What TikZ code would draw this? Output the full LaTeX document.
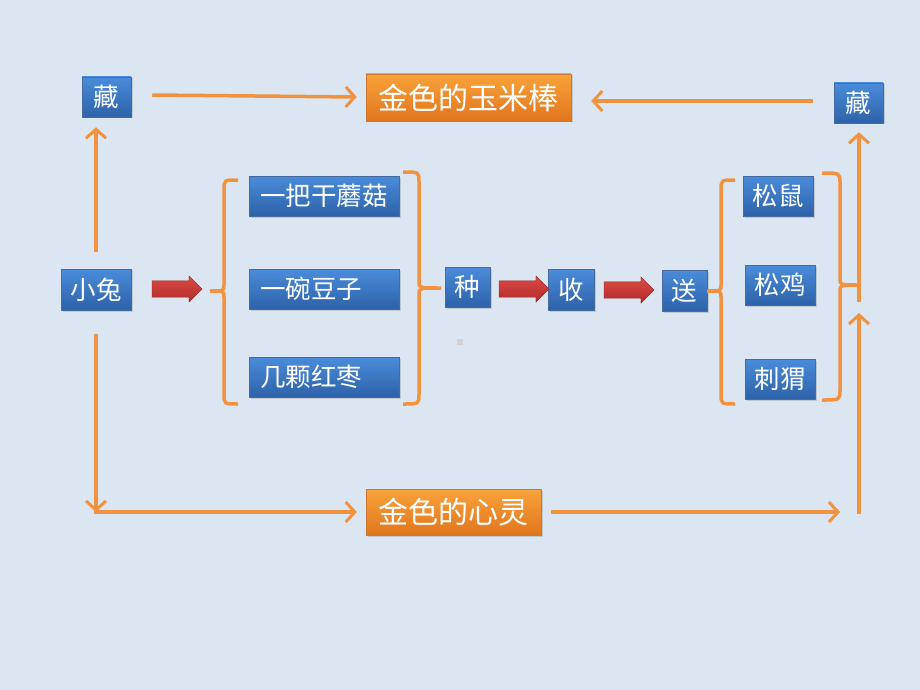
\documentclass[tikz,border=0pt]{standalone}
\usepackage{fontspec}
\newfontfamily\cjk{Noto Sans CJK SC}
\usetikzlibrary{arrows.meta,shadows,shapes.arrows}
\definecolor{bg}{HTML}{DCE6F2}
\definecolor{btop}{HTML}{4A8CDB}
\definecolor{bbot}{HTML}{2D62A8}
\definecolor{otop}{HTML}{F9A23A}
\definecolor{obot}{HTML}{E0761E}
\definecolor{oline}{HTML}{F0923E}
\definecolor{rtop}{HTML}{DC4B45}
\definecolor{rbot}{HTML}{B02A2A}
\tikzset{
  bluebox/.style={draw=bbot!70!gray, line width=0.5pt, top color=btop, bottom color=bbot, text=white, inner sep=0pt,
    font=\cjk\fontsize{25.5}{28}\selectfont, drop shadow={shadow xshift=1.5pt, shadow yshift=-1.5pt, opacity=0.3}},
  orangebox/.style={draw=obot!80!gray, line width=0.5pt, top color=otop, bottom color=obot, text=white, inner sep=0pt,
    font=\cjk\fontsize{30}{33}\selectfont, drop shadow={shadow xshift=1.5pt, shadow yshift=-1.5pt, opacity=0.3}},
  oarrow/.style={draw=oline, line width=3.5pt, -{Straight Barb[length=9pt,width=20pt,line width=3pt]}},
  obrace/.style={draw=oline, line width=3.5pt},
  redarrow/.style={single arrow, single arrow head extend=5pt, inner xsep=0pt, inner ysep=8pt, minimum height=50pt,
    top color=rtop, bottom color=rbot, draw=rbot!80!black, line width=0.3pt}
}
\begin{document}
\begin{tikzpicture}[x=1pt,y=-1pt]
\fill[bg] (0,0) rectangle (920,690);
\useasboundingbox (0,0) rectangle (920,690);
% boxes
\node[bluebox, minimum width=49, minimum height=40] (zangL) at (106.5,97) {藏};
\node[orangebox, minimum width=205, minimum height=47] (corn) at (468.5,97.5) {金色的玉米棒};
\node[bluebox, minimum width=49, minimum height=40] (zangR) at (858.5,103) {藏};
\node[bluebox, minimum width=70, minimum height=41] (tu) at (96,289.5) {小兔};
\node[bluebox, minimum width=150, minimum height=40, text width=128, align=left] (mg) at (324,196) {一把干蘑菇};
\node[bluebox, minimum width=150, minimum height=40, text width=128, align=left] (dz) at (324,289) {一碗豆子};
\node[bluebox, minimum width=150, minimum height=40, text width=128, align=left] (hz) at (324,377) {几颗红枣};
\node[bluebox, minimum width=45, minimum height=40] (zhong) at (467.5,287) {种};
\node[bluebox, minimum width=46, minimum height=41] (shou) at (571,289.5) {收};
\node[bluebox, minimum width=45, minimum height=41] (song) at (684.5,290.5) {送};
\node[bluebox, minimum width=70, minimum height=40] (ss) at (778,196) {松鼠};
\node[bluebox, minimum width=70, minimum height=40] (sj) at (780,285) {松鸡};
\node[bluebox, minimum width=70, minimum height=40] (cw) at (780,379) {刺猬};
\node[orangebox, minimum width=175, minimum height=46] (heart) at (453.5,512) {金色的心灵};
\fill[gray!35] (457,339) rectangle (463,345);
% red arrows
\node[redarrow] (ra1) at (173,289) {};
\node[redarrow] (ra2) at (520,289) {};
\node[redarrow] (ra3) at (625,290) {};
% braces
\draw[obrace] (238,180) .. controls (224,180) .. (224,190) -- (224,285) .. controls (224,291) .. (210,291)
  .. controls (224,291) .. (224,297) -- (224,394) .. controls (224,404) .. (238,404);
\draw[obrace] (403,172) .. controls (419,172) .. (419,182) -- (419,282) .. controls (419,288) .. (441,288)
  (441,288) .. controls (419,288) .. (419,294) -- (419,394) .. controls (419,404) .. (403,404);
\draw[obrace] (735,180) .. controls (721,180) .. (721,190) -- (721,285) .. controls (721,291) .. (707,291)
  .. controls (721,291) .. (721,297) -- (721,394) .. controls (721,404) .. (735,404);
\draw[obrace] (822,173) .. controls (840,173) .. (840,183) -- (840,279) .. controls (840,285) .. (859,285)
  (859,285) .. controls (840,285) .. (840,291) -- (840,390) .. controls (840,400) .. (822,400);
% coordinates
\coordinate (c1) at (96,512);
\coordinate (c2) at (840,512);
\coordinate (c3) at (859,514);
\coordinate (c4) at (859,313);
\coordinate (c5) at (859,302);
% orange arrows
\draw[oarrow] ([xshift=21]zangL.east |- 0,95) -- ([xshift=-9]corn.west |- 0,97);
\draw[oarrow] ([xshift=-21,yshift=2]zangR.west) -- ([xshift=20,yshift=2]zangR.west -| corn.east);
\draw[oarrow] ([yshift=17]tu.north) -- ([yshift=-10]tu.north |- zangL.south);
\draw[oarrow] ([yshift=-24]tu.south) -- (c1);
\draw[oarrow, shorten <=-1.75pt] (c1) -- ([xshift=-9]heart.west);
\draw[oarrow] ([xshift=10]heart.east) -- (c2);
\draw[oarrow] (c3) -- (c4);
\draw[oarrow] (c5) -- ([yshift=-9]c5 |- zangR.south);
\end{tikzpicture}
\end{document}
